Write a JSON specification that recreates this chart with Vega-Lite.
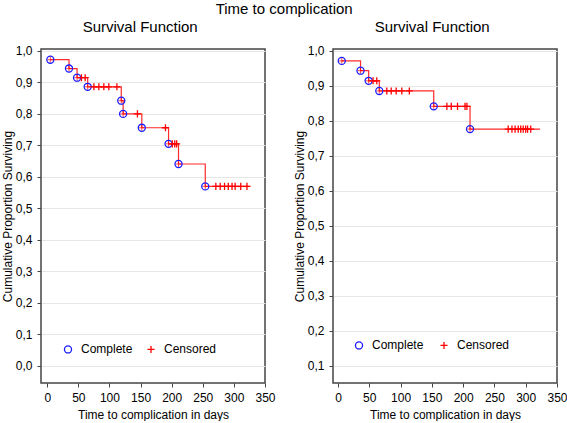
{
  "$schema": "https://vega.github.io/schema/vega-lite/v6.json",
  "padding": {"left": 0, "top": 1, "right": 0, "bottom": 0},
  "title": {"text": "Time to complication", "fontSize": 15, "fontWeight": "normal", "anchor": "middle", "offset": 2, "color": "black"},
  "datasets": {
    "left": [
      {"day": 5, "s": 0.971, "status": "Complete"},
      {"day": 35, "s": 0.943, "status": "Complete"},
      {"day": 48, "s": 0.914, "status": "Complete"},
      {"day": 55, "s": 0.914, "status": "Censored"},
      {"day": 61, "s": 0.914, "status": "Censored"},
      {"day": 65, "s": 0.885, "status": "Complete"},
      {"day": 75, "s": 0.885, "status": "Censored"},
      {"day": 83, "s": 0.885, "status": "Censored"},
      {"day": 91, "s": 0.885, "status": "Censored"},
      {"day": 99, "s": 0.885, "status": "Censored"},
      {"day": 112, "s": 0.885, "status": "Censored"},
      {"day": 119, "s": 0.841, "status": "Complete"},
      {"day": 122, "s": 0.799, "status": "Complete"},
      {"day": 145, "s": 0.799, "status": "Censored"},
      {"day": 152, "s": 0.755, "status": "Complete"},
      {"day": 190, "s": 0.755, "status": "Censored"},
      {"day": 195, "s": 0.704, "status": "Complete"},
      {"day": 201, "s": 0.704, "status": "Censored"},
      {"day": 205, "s": 0.704, "status": "Censored"},
      {"day": 208, "s": 0.704, "status": "Censored"},
      {"day": 211, "s": 0.640, "status": "Complete"},
      {"day": 254, "s": 0.569, "status": "Complete"},
      {"day": 271, "s": 0.569, "status": "Censored"},
      {"day": 278, "s": 0.569, "status": "Censored"},
      {"day": 285, "s": 0.569, "status": "Censored"},
      {"day": 291, "s": 0.569, "status": "Censored"},
      {"day": 297, "s": 0.569, "status": "Censored"},
      {"day": 302, "s": 0.569, "status": "Censored"},
      {"day": 311, "s": 0.569, "status": "Censored"},
      {"day": 321, "s": 0.569, "status": "Censored"},
      {"day": 325, "s": 0.569, "status": "End"}
    ],
    "right": [
      {"day": 6, "s": 0.971, "status": "Complete"},
      {"day": 36, "s": 0.943, "status": "Complete"},
      {"day": 49, "s": 0.914, "status": "Complete"},
      {"day": 56, "s": 0.914, "status": "Censored"},
      {"day": 62, "s": 0.914, "status": "Censored"},
      {"day": 66, "s": 0.885, "status": "Complete"},
      {"day": 78, "s": 0.885, "status": "Censored"},
      {"day": 85, "s": 0.885, "status": "Censored"},
      {"day": 93, "s": 0.885, "status": "Censored"},
      {"day": 102, "s": 0.885, "status": "Censored"},
      {"day": 114, "s": 0.885, "status": "Censored"},
      {"day": 153, "s": 0.841, "status": "Complete"},
      {"day": 174, "s": 0.841, "status": "Censored"},
      {"day": 181, "s": 0.841, "status": "Censored"},
      {"day": 191, "s": 0.841, "status": "Censored"},
      {"day": 203, "s": 0.841, "status": "Censored"},
      {"day": 206, "s": 0.841, "status": "Censored"},
      {"day": 211, "s": 0.776, "status": "Complete"},
      {"day": 272, "s": 0.776, "status": "Censored"},
      {"day": 278, "s": 0.776, "status": "Censored"},
      {"day": 283, "s": 0.776, "status": "Censored"},
      {"day": 288, "s": 0.776, "status": "Censored"},
      {"day": 292, "s": 0.776, "status": "Censored"},
      {"day": 296, "s": 0.776, "status": "Censored"},
      {"day": 300, "s": 0.776, "status": "Censored"},
      {"day": 303, "s": 0.776, "status": "Censored"},
      {"day": 308, "s": 0.776, "status": "Censored"},
      {"day": 323, "s": 0.776, "status": "End"}
    ]
  },
  "hconcat": [
    {
      "width": 224,
      "height": 334,
      "title": {"text": "Survival Function", "frame": "bounds", "dx": 2},
      "data": {"name": "left"},
      "encoding": {
        "x": {"field": "day", "type": "quantitative", "scale": {"domain": [-10, 350], "nice": false, "zero": false},
              "axis": {"title": "Time to complication in days", "values": [0, 50, 100, 150, 200, 250, 300, 350], "grid": false}},
        "y": {"field": "s", "type": "quantitative", "scale": {"domain": [-0.055, 1.005], "nice": false, "zero": false},
              "axis": {"title": "Cumulative Proportion Surviving", "values": [0, 0.1, 0.2, 0.3, 0.4, 0.5, 0.6, 0.7, 0.8, 0.9, 1.0],
                       "labelExpr": "replace(format(datum.value, '.1f'), '.', ',')"}}
      },
      "layer": [
        {"mark": {"type": "line", "interpolate": "step-after", "color": "#ff2a2a", "strokeWidth": 1.2}},
        {"transform": [{"filter": "datum.status === 'Complete'"}],
         "mark": {"type": "point", "shape": "M-1,0L1,0M0,-1L0,1", "color": "#ff0000", "filled": false, "size": 30, "strokeWidth": 1}},
        {"transform": [{"filter": "datum.status !== 'End'"}],
         "mark": {"type": "point", "filled": false, "size": 50, "strokeWidth": 1.3, "opacity": 1},
         "encoding": {
           "color": {"field": "status", "type": "nominal", "scale": {"domain": ["Complete", "Censored"], "range": ["#1a1aff", "#ff0000"]},
                     "legend": {"orient": "none", "legendX": 21, "legendY": 294, "direction": "horizontal", "title": null, "padding": 0, "columnPadding": 11, "labelOffset": 7}},
           "shape": {"field": "status", "type": "nominal", "scale": {"domain": ["Complete", "Censored"], "range": ["circle", "M-1,0L1,0M0,-1L0,1"]},
                     "legend": {"orient": "none", "legendX": 21, "legendY": 294, "direction": "horizontal", "title": null, "padding": 0, "columnPadding": 11, "labelOffset": 7}}
         }}
      ]
    },
    {
      "width": 224,
      "height": 334,
      "title": {"text": "Survival Function", "frame": "bounds", "dx": 2},
      "data": {"name": "right"},
      "encoding": {
        "x": {"field": "day", "type": "quantitative", "scale": {"domain": [-8, 350], "nice": false, "zero": false},
              "axis": {"title": "Time to complication in days", "values": [0, 50, 100, 150, 200, 250, 300, 350], "grid": false}},
        "y": {"field": "s", "type": "quantitative", "scale": {"domain": [0.05, 1.005], "nice": false, "zero": false},
              "axis": {"title": "Cumulative Proportion Surviving", "values": [0.1, 0.2, 0.3, 0.4, 0.5, 0.6, 0.7, 0.8, 0.9, 1.0],
                       "labelExpr": "replace(format(datum.value, '.1f'), '.', ',')"}}
      },
      "layer": [
        {"mark": {"type": "line", "interpolate": "step-after", "color": "#ff2a2a", "strokeWidth": 1.2}},
        {"transform": [{"filter": "datum.status === 'Complete'"}],
         "mark": {"type": "point", "shape": "M-1,0L1,0M0,-1L0,1", "color": "#ff0000", "filled": false, "size": 30, "strokeWidth": 1}},
        {"transform": [{"filter": "datum.status !== 'End'"}],
         "mark": {"type": "point", "filled": false, "size": 50, "strokeWidth": 1.3, "opacity": 1},
         "encoding": {
           "color": {"field": "status", "type": "nominal", "scale": {"domain": ["Complete", "Censored"], "range": ["#1a1aff", "#ff0000"]},
                     "legend": {"orient": "none", "legendX": 20, "legendY": 290, "direction": "horizontal", "title": null, "padding": 0, "columnPadding": 13, "labelOffset": 7}},
           "shape": {"field": "status", "type": "nominal", "scale": {"domain": ["Complete", "Censored"], "range": ["circle", "M-1,0L1,0M0,-1L0,1"]},
                     "legend": {"orient": "none", "legendX": 20, "legendY": 290, "direction": "horizontal", "title": null, "padding": 0, "columnPadding": 13, "labelOffset": 7}}
         }}
      ]
    }
  ],
  "resolve": {"scale": {"x": "independent", "y": "independent", "color": "independent", "shape": "independent"}},
  "spacing": 16,
  "config": {
    "font": "Liberation Sans",
    "view": {"stroke": "#444444", "strokeWidth": 1.5},
    "title": {"fontSize": 15, "fontWeight": "normal", "color": "black", "offset": 10},
    "axis": {"labelFontSize": 12, "titleFontSize": 12, "titleFontWeight": "normal", "labelColor": "black", "titleColor": "black",
             "domain": false, "tickColor": "#444444", "tickSize": 4, "labelPadding": 5, "titlePadding": 6, "labelFlush": false,
             "gridColor": "#e6e6e6", "gridWidth": 1},
    "axisY": {"titlePadding": 1},
    "legend": {"labelFontSize": 12, "labelColor": "black", "symbolStrokeWidth": 1.3, "symbolSize": 50}
  }
}
